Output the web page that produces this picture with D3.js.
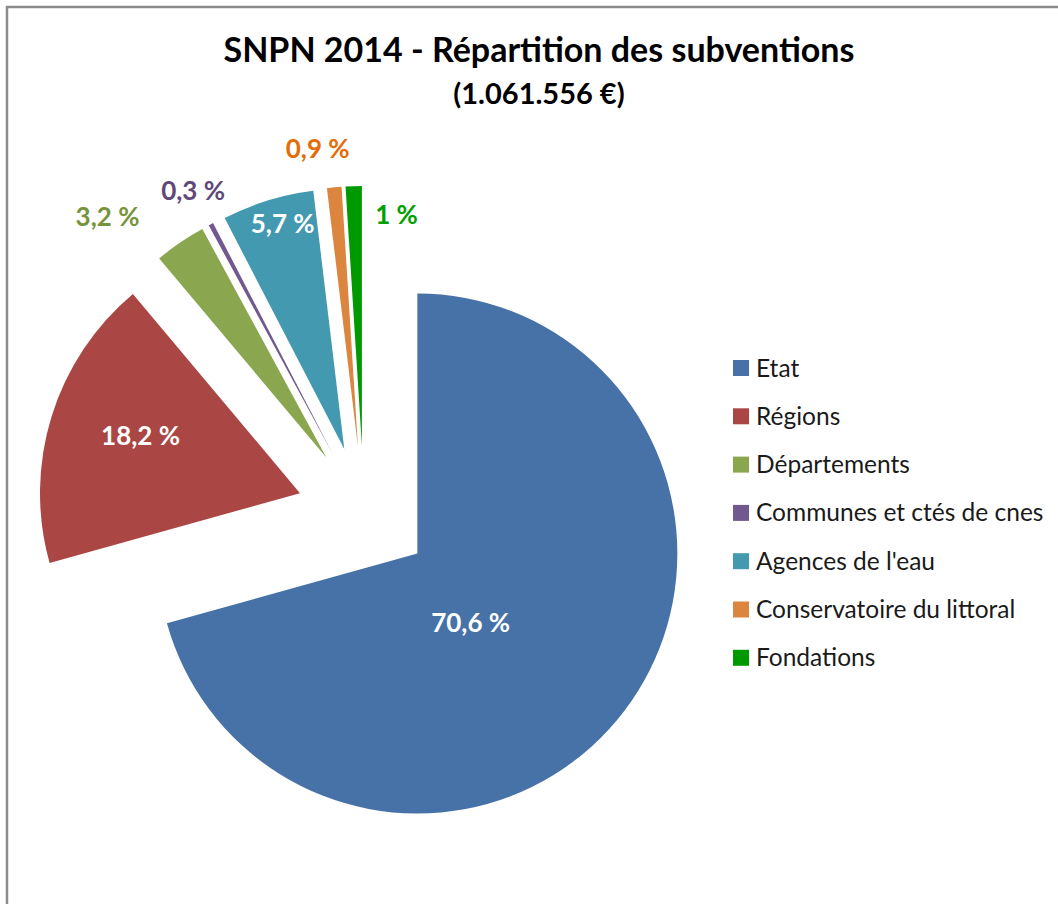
<!DOCTYPE html>
<html><head><meta charset="utf-8">
<script src="https://cdn.jsdelivr.net/npm/d3@7/dist/d3.min.js"></script>
<style>html,body{margin:0;padding:0;background:#fff;}svg{display:block;}</style>
</head><body>
<svg id="chart" width="1058" height="904"></svg>
<script>
const categories = ["Etat","Régions","Départements","Communes et ctés de cnes","Agences de l'eau","Conservatoire du littoral","Fondations"];
const values = [70.6, 18.2, 3.2, 0.3, 5.7, 0.9, 1];
const labels = ["70,6 %","18,2 %","3,2 %","0,3 %","5,7 %","0,9 %","1 %"];
const title = "SNPN 2014 - Répartition des subventions";
const subtitle = "(1.061.556 €)";

const colors = ["#4672A8","#AA4744","#8AA64F","#71598F","#4399AF","#DB853E","#009A00"];
const labelColors = ["#fff","#fff","#77933C","#5F497A","#fff","#E46C0A","#00A000"];
// label placement: radial distance from slice apex and extra offset
const labelR = [87, 169, 300, 298, 233, 299, 234];
const labelD = [[-16,17],[2,-7],[-50,7],[0,0],[7,-2],[-13,0],[42,3]];

const font = "Lato, 'Open Sans', sans-serif";
const svg = d3.select("#chart");
svg.append("path").attr("d","M1058,7 H7 V904").attr("fill","none").attr("stroke","#8c8c8c").attr("stroke-width",2.5);

svg.append("text").attr("x",539).attr("y",62).attr("text-anchor","middle")
  .attr("font-family",font).attr("font-weight","bold").attr("font-size",34).attr("fill","#000").text(title);
svg.append("text").attr("x",539).attr("y",104).attr("text-anchor","middle")
  .attr("font-family",font).attr("font-weight","bold").attr("font-size",29).attr("fill","#000").text(subtitle);

const cx = 364, cy = 513, R = 260, explode = 67;
const pie = d3.pie().sort(null).value(d => d);
const arcs = pie(values);
const arc = d3.arc().innerRadius(0).outerRadius(R);
const g = svg.append("g").attr("transform",`translate(${cx},${cy})`);
function dir(a){ return [Math.sin(a), -Math.cos(a)]; }
arcs.forEach((a,i) => {
  const m = (a.startAngle + a.endAngle)/2;
  const d = dir(m);
  const ox = d[0]*explode, oy = d[1]*explode;
  g.append("path").attr("d", arc(a)).attr("fill", colors[i])
    .attr("transform",`translate(${ox},${oy})`);
  const lx = ox + d[0]*labelR[i] + labelD[i][0];
  const ly = oy + d[1]*labelR[i] + labelD[i][1];
  g.append("text").attr("x",lx).attr("y",ly).attr("dy","0.35em").attr("text-anchor","middle")
    .attr("font-family",font).attr("font-weight","bold").attr("font-size",26)
    .attr("fill",labelColors[i]).text(labels[i]);
});

const legend = svg.append("g").attr("transform","translate(733,368)");
categories.forEach((c,i) => {
  const row = legend.append("g").attr("transform",`translate(0,${i*48.3})`);
  row.append("rect").attr("x",0).attr("y",-8).attr("width",16).attr("height",16).attr("fill",colors[i]);
  row.append("text").attr("x",23).attr("y",0).attr("dy","0.35em")
    .attr("font-family",font).attr("font-size",24.5).attr("fill","#1a1a1a").text(c);
});
</script>
</body></html>
